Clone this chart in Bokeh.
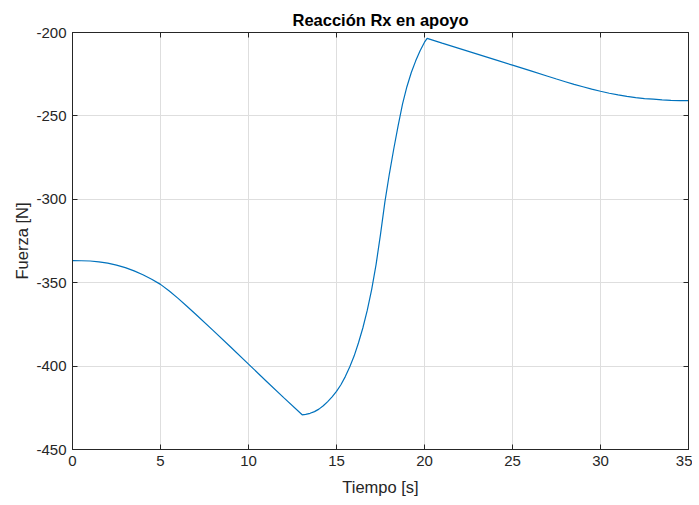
from bokeh.plotting import figure
from bokeh.models import LinearAxis, Range1d, FixedTicker, PrintfTickFormatter
from bokeh.embed import file_html
from bokeh.resources import INLINE

# Support reaction Rx over time
tiempo = [0, 0.5, 1, 1.5, 2, 2.5, 3, 3.5, 4, 4.5, 5, 5.5, 6, 6.5, 7, 8, 9, 10, 11, 12,
          13.05, 13.25, 13.5, 13.75, 14, 14.25, 14.5, 14.75, 15, 15.25, 15.5, 15.75,
          16, 16.25, 16.5, 16.75, 17, 17.25, 17.5, 17.75, 18, 18.25, 18.5, 18.75,
          19, 19.25, 19.5, 19.75, 20, 20.15,
          21, 22, 23, 24, 25, 26, 27, 27.5, 28, 28.5, 29, 29.5, 30, 30.5, 31, 31.5,
          32, 32.5, 33, 33.5, 34, 34.5, 35]
fuerza = [-336.8, -336.85, -337.0, -337.5, -338.3, -339.5, -341.0, -342.9, -345.2,
          -347.9, -351.0, -355.0, -359.4, -364.1, -368.9, -378.7, -388.7, -398.8,
          -408.9, -418.9,
          -429.2, -428.9, -428.3, -427.3, -425.8, -423.8, -421.3, -418.5, -415.2,
          -411.2, -406.3, -400.5,
          -394.0, -386.0, -377.0, -366.5, -354.0, -339.0, -321.0, -301.5, -285.0,
          -270.0, -256.0, -243.0, -232.5, -224.0, -217.0, -211.0, -205.8, -203.5,
          -206.4, -209.7, -213.0, -216.3, -219.6, -222.9, -226.2, -227.9, -229.5,
          -231.1, -232.5, -233.9, -235.2, -236.4, -237.4, -238.3, -239.0, -239.6,
          -240.0, -240.4, -240.7, -240.8, -240.9]

x_ticks = [0, 5, 10, 15, 20, 25, 30, 35]
y_ticks = [-450, -400, -350, -300, -250, -200]

FONT = "Liberation Sans"
DARK = "#262626"

p = figure(frame_width=616, frame_height=417,
           x_range=Range1d(0, 35), y_range=Range1d(-450, -200),
           output_backend="svg", toolbar_location=None,
           title="Reacción Rx en apoyo",
           min_border_left=72, min_border_right=4, min_border_top=32, min_border_bottom=4,
           background_fill_color="white", border_fill_color="white")

p.title.align = "center"
p.title.text_font = FONT
p.title.text_font_size = "16.5px"
p.title.text_font_style = "bold"
p.title.text_color = "#000000"
p.title.standoff = 8

p.outline_line_color = DARK
p.outline_line_width = 1

for ax in (p.xaxis[0], p.yaxis[0]):
    ax.major_label_text_font = FONT
    ax.major_label_text_font_size = "15px"
    ax.major_label_text_color = DARK
    ax.axis_label_text_font = FONT
    ax.axis_label_text_font_size = "16.5px"
    ax.axis_label_text_font_style = "normal"
    ax.axis_label_text_color = DARK
    ax.axis_line_color = DARK
    ax.major_tick_line_color = DARK
    ax.major_tick_in = 5
    ax.major_tick_out = 0
    ax.minor_tick_line_color = None
    ax.major_label_standoff = 6

p.xaxis.ticker = FixedTicker(ticks=x_ticks)
p.yaxis.ticker = FixedTicker(ticks=y_ticks)
# plain hyphen for negative tick labels
p.xaxis.formatter = PrintfTickFormatter(format="%d")
p.yaxis.formatter = PrintfTickFormatter(format="%d")
p.xaxis.axis_label = "Tiempo [s]"
p.yaxis.axis_label = "Fuerza [N]"
p.xaxis.axis_label_standoff = 9
p.yaxis.axis_label_standoff = 2

# inward ticks on the top and right edges of the box (no labels there)
top = LinearAxis(ticker=FixedTicker(ticks=x_ticks), major_label_text_font_size="0px",
                 major_label_text_color=None,
                 major_tick_in=5, major_tick_out=0, minor_tick_line_color=None,
                 axis_line_color=DARK, major_tick_line_color=DARK, major_label_standoff=0)
right = LinearAxis(ticker=FixedTicker(ticks=y_ticks), major_label_text_font_size="0px",
                   major_label_text_color=None,
                   major_tick_in=5, major_tick_out=0, minor_tick_line_color=None,
                   axis_line_color=DARK, major_tick_line_color=DARK, major_label_standoff=0)
p.add_layout(top, "above")
p.add_layout(right, "right")

p.xgrid.ticker = FixedTicker(ticks=x_ticks)
p.ygrid.ticker = FixedTicker(ticks=y_ticks)
p.grid.grid_line_color = "#dedede"
p.grid.grid_line_width = 1

p.line(tiempo, fuerza, line_color="#0072BD", line_width=1.2)

open("out.html", "w").write(file_html(p, INLINE))
